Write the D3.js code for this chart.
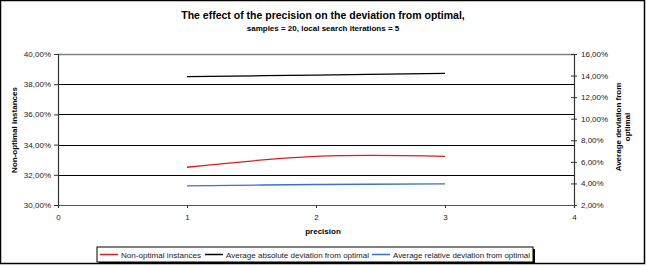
<!DOCTYPE html>
<html><head><meta charset="utf-8">
<script src="https://cdnjs.cloudflare.com/ajax/libs/d3/7.8.5/d3.min.js"></script>
<style>body{margin:0;background:#fff}text{font-family:Arial,"Liberation Sans",sans-serif}</style>
</head><body>
<script>
const precision = [1, 2, 3];
const nonOptimal = [0.3250, 0.3322, 0.3322];
const avgAbsolute = [0.1390, 0.1405, 0.1420];
const avgRelative = [0.0378, 0.0390, 0.0395];
const leftTicks = [0.30, 0.32, 0.34, 0.36, 0.38, 0.40];
const rightTicks = [0.02, 0.04, 0.06, 0.08, 0.10, 0.12, 0.14, 0.16];
const xTicks = [0, 1, 2, 3, 4];
const seriesNames = ["Non-optimal instances", "Average absolute deviation from optimal", "Average relative deviation from optimal"];
const seriesColors = ["#e31a1c", "#000000", "#3a6fd8"];

const W = 646, H = 266;
const svg = d3.select("body").append("svg").attr("width", W).attr("height", H);
svg.append("rect").attr("x", 0.5).attr("y", 0.5).attr("width", W - 2).attr("height", H - 3)
  .attr("fill", "#fff").attr("stroke", "#000").attr("stroke-width", 1.5);

const L = 58, R = 574, T = 54, B = 205;
const x = d3.scaleLinear().domain([0, 4]).range([L, R]);
const yL = d3.scaleLinear().domain([0.30, 0.40]).range([B, T]);
const yR = d3.scaleLinear().domain([0.02, 0.16]).range([B, T]);
const fmt = v => d3.format(".2f")(v * 100).replace(".", ",") + "%";

// gridlines
svg.append("g").selectAll("line").data(leftTicks.filter(v => v > 0.30 && v < 0.40)).join("line")
  .attr("x1", L).attr("x2", R).attr("y1", d => Math.round(yL(d)) + 0.5).attr("y2", d => Math.round(yL(d)) + 0.5)
  .attr("stroke", "#000").attr("stroke-width", 1);
svg.append("line").attr("x1", L).attr("x2", R).attr("y1", T + 0.5).attr("y2", T + 0.5).attr("stroke", "#808080").attr("stroke-width", 1.5);

// axes
const axL = svg.append("g").attr("transform", `translate(${L},0)`)
  .call(d3.axisLeft(yL).tickValues(leftTicks).tickFormat(fmt).tickSize(4).tickPadding(3));
const axR = svg.append("g").attr("transform", `translate(${R},0)`)
  .call(d3.axisRight(yR).tickValues(rightTicks).tickFormat(fmt).tickSize(3).tickPadding(4));
axR.selectAll(".tick line").attr("x1", -3);
const axB = svg.append("g").attr("transform", `translate(0,${B})`)
  .call(d3.axisBottom(x).tickValues(xTicks).tickFormat(d3.format("d")).tickSize(3).tickPadding(6));
[axL, axR, axB].forEach(a => {
  a.selectAll(".domain").attr("stroke", "#333").attr("stroke-width", 1.2);
  a.selectAll(".tick line").attr("stroke", "#333");
  a.selectAll("text").attr("font-size", 8).attr("fill", "#222").attr("font-family", "Arial, 'Liberation Sans', sans-serif");
});
axB.select(".domain").attr("stroke", "#555");

// lines
const mk = (scale) => d3.line().x((d, i) => x(precision[i])).y(d => scale(d)).curve(d3.curveCardinal.tension(0));
svg.append("path").datum(nonOptimal).attr("d", mk(yL)).attr("fill", "none").attr("stroke", seriesColors[0]).attr("stroke-width", 1.3);
svg.append("path").datum(avgAbsolute).attr("d", mk(yR)).attr("fill", "none").attr("stroke", seriesColors[1]).attr("stroke-width", 1.3);
svg.append("path").datum(avgRelative).attr("d", mk(yR)).attr("fill", "none").attr("stroke", seriesColors[2]).attr("stroke-width", 1.3);

// titles
svg.append("text").attr("x", 323).attr("y", 19).attr("text-anchor", "middle").attr("font-size", 10.5).attr("font-weight", "bold")
  .text("The effect of the precision on the deviation from optimal,");
svg.append("text").attr("x", 323).attr("y", 31).attr("text-anchor", "middle").attr("font-size", 8).attr("font-weight", "bold")
  .text("samples = 20, local search iterations = 5");
svg.append("text").attr("x", 323).attr("y", 234).attr("text-anchor", "middle").attr("font-size", 8).attr("font-weight", "bold").text("precision");
svg.append("text").attr("transform", "translate(17,130) rotate(-90)").attr("text-anchor", "middle").attr("font-size", 8).attr("font-weight", "bold").text("Non-optimal instances");
const rt = svg.append("text").attr("transform", "translate(621,127) rotate(-90)").attr("text-anchor", "middle").attr("font-size", 8).attr("font-weight", "bold");
rt.append("tspan").attr("x", 0).attr("dy", 0).text("Average deviation from");
rt.append("tspan").attr("x", 0).attr("dy", 9).text("optimal");

// legend
const lx = 97, ly = 247, lw = 436, lh = 15;
svg.append("rect").attr("x", lx + 2).attr("y", ly + 2).attr("width", lw).attr("height", lh).attr("fill", "#000");
svg.append("rect").attr("x", lx).attr("y", ly).attr("width", lw).attr("height", lh).attr("fill", "#fff").attr("stroke", "#000").attr("stroke-width", 1);
const legX = [100, 205, 372];
const legW = [80, 143, 137];
seriesNames.forEach((n, i) => {
  const g = svg.append("g").attr("transform", `translate(${legX[i]},${ly + lh / 2})`);
  g.append("line").attr("x1", 0).attr("x2", 18).attr("stroke", seriesColors[i]).attr("stroke-width", 1.5);
  g.append("text").attr("x", 21).attr("y", 3).attr("font-size", 8).attr("fill", "#222")
    .attr("textLength", legW[i]).attr("lengthAdjust", "spacingAndGlyphs").text(n);
});
</script>
</body></html>
